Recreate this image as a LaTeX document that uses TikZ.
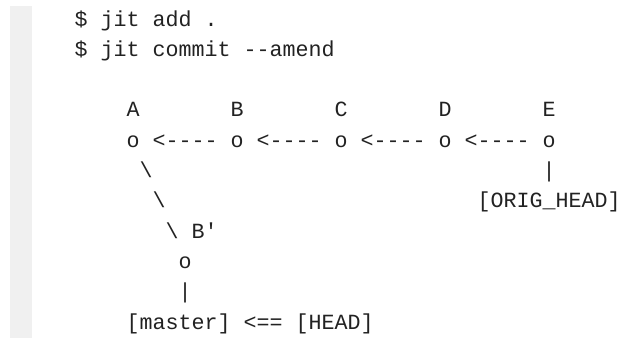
\documentclass[tikz,border=0pt]{standalone}
\usepackage{fontspec}
\setmonofont{Liberation Mono}
\definecolor{codetext}{HTML}{222222}
\definecolor{strip}{HTML}{F0F0F0}
\begin{document}
\begin{tikzpicture}[x=1pt,y=-1pt,
  code/.style={anchor=base west,inner sep=0pt,outer sep=0pt,text=codetext,
    font=\ttfamily\fontsize{21.67pt}{30pt}\selectfont}]
\useasboundingbox (0,0) rectangle (617,338);
\fill[strip] (10,6) rectangle (32,338);
% column x = 74.5 + 13*col ; baseline y = 26 + 30.3*line
\node[code] (l0) at (74.5,26) {\$ jit add .};
\node[code] (l1) at (74.5,56.3) {\$ jit commit -{}-amend};
% line 3: labels
\node[code] (A) at (126.5,116.9) {A};
\node[code] (B) at (230.5,116.9) {B};
\node[code] (C) at (334.5,116.9) {C};
\node[code] (D) at (438.5,116.9) {D};
\node[code] (E) at (542.5,116.9) {E};
% line 4: commits
\node[code] (chain) at (126.5,147.2) {o <-{}-{}-{}- o <-{}-{}-{}- o <-{}-{}-{}- o <-{}-{}-{}- o};
% line 5
\node[code] (bs1) at (139.5,177.5) {\textbackslash};
\node[code] (bar1) at (542.5,177.5) {|};
% line 6
\node[code] (bs2) at (152.5,207.8) {\textbackslash};
\node[code] (orig) at (477.5,207.8) {[ORIG\_HEAD]};
% line 7
\node[code] (bs3) at (165.5,238.1) {\textbackslash\ B\symbol{39}};
% line 8
\node[code] (bp) at (178.5,268.4) {o};
% line 9
\node[code] (bar2) at (178.5,298.7) {|};
% line 10
\node[code] (master) at (126.5,329) {[master] <== [HEAD]};
\end{tikzpicture}
\end{document}
